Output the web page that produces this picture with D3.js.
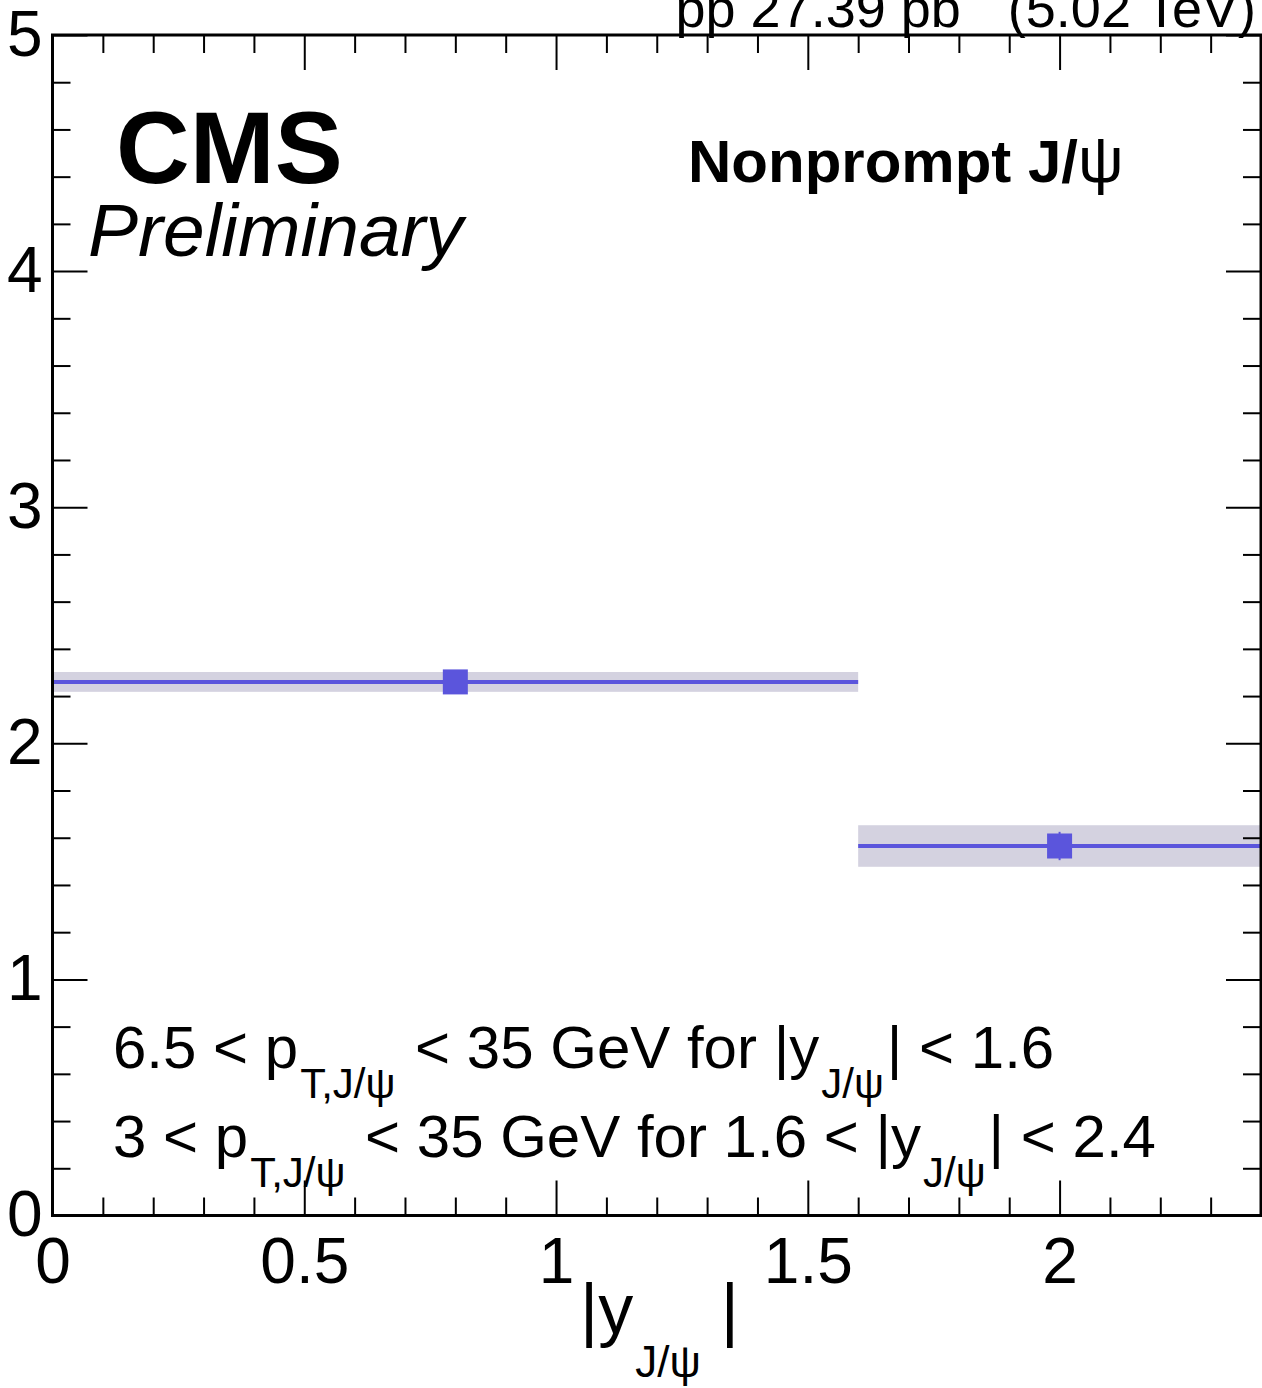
<!DOCTYPE html>
<html>
<head>
<meta charset="utf-8">
<script src="https://cdn.jsdelivr.net/npm/d3@7"></script>
<style>
  body { margin: 0; background: #fff; }
  text { font-family: "Liberation Sans", Arial, sans-serif; fill: #000; }
</style>
</head>
<body>
<script>
// bins in |y| and the nonprompt J/psi values
const binLow = [0, 1.6];
const binHigh = [1.6, 2.4];
const xCenter = [0.8, 2.0];
const yValue = [2.26, 1.565];
const statErr = [0.03, 0.06];
const systErr = [0.042, 0.088];

const xTickValues = [0, 0.5, 1, 1.5, 2];
const xTickLabels = ["0", "0.5", "1", "1.5", "2"];
const yTickValues = [0, 1, 2, 3, 4, 5];
const yTickLabels = ["0", "1", "2", "3", "4", "5"];

const W = 1262, H = 1388;
const padL = 52.5, padR = 1261, padT = 35, padB = 1215.5;

const svg = d3.select('body').append('svg')
  .attr('width', W)
  .attr('height', H);

const x = d3.scaleLinear().domain([0, 2.4]).range([padL, padR]);
const y = d3.scaleLinear().domain([0, 5]).range([padB, padT]);

const points = xCenter.map((c, i) => ({
  x: c, lo: binLow[i], hi: binHigh[i], y: yValue[i], stat: statErr[i], syst: systErr[i]
}));

const markColor = '#5b55dc';
const bandColor = '#d4d2e0';

// systematic bands
svg.selectAll('rect.band')
  .data(points)
  .enter()
  .append('rect')
  .attr('class', 'band')
  .attr('x', d => x(d.lo))
  .attr('width', d => x(d.hi) - x(d.lo))
  .attr('y', d => y(d.y + d.syst))
  .attr('height', d => y(d.y - d.syst) - y(d.y + d.syst))
  .attr('fill', bandColor);

// horizontal bin-width lines
svg.selectAll('line.xerr')
  .data(points)
  .enter()
  .append('line')
  .attr('x1', d => x(d.lo))
  .attr('x2', d => x(d.hi))
  .attr('y1', d => y(d.y))
  .attr('y2', d => y(d.y))
  .attr('stroke', markColor)
  .attr('stroke-width', 4);

// stat error bars
svg.selectAll('line.yerr')
  .data(points)
  .enter()
  .append('line')
  .attr('x1', d => x(d.x))
  .attr('x2', d => x(d.x))
  .attr('y1', d => y(d.y + d.stat))
  .attr('y2', d => y(d.y - d.stat))
  .attr('stroke', markColor)
  .attr('stroke-width', 2);

// square markers
const ms = 25;
svg.selectAll('rect.marker')
  .data(points)
  .enter()
  .append('rect')
  .attr('x', d => x(d.x) - ms / 2)
  .attr('y', d => y(d.y) - ms / 2)
  .attr('width', ms)
  .attr('height', ms)
  .attr('fill', markColor);

// axes: ticks drawn inward on all four sides
const xMinor = d3.range(0, 24.5, 1).map(v => v / 10).filter(v => !xTickValues.some(t => Math.abs(t - v) < 1e-9));
const yMinor = d3.range(0, 25.5, 1).map(v => v / 5).filter(v => !yTickValues.some(t => Math.abs(t - v) < 1e-9));

function styleAxis(g) {
  g.select('.domain').remove();
  g.selectAll('line').attr('stroke', '#000').attr('stroke-width', 2);
  g.selectAll('text').style('font-family', '"Liberation Sans", Arial, sans-serif').attr('font-size', 64);
}

svg.append('g').attr('transform', `translate(0,${padB})`)
  .call(d3.axisBottom(x).tickValues(xTickValues).tickSize(-35).tickPadding(22)
    .tickFormat((d, i) => xTickLabels[i]))
  .call(styleAxis);
svg.append('g').attr('transform', `translate(0,${padB})`)
  .call(d3.axisBottom(x).tickValues(xMinor).tickSize(-18).tickFormat(''))
  .call(styleAxis);
svg.append('g').attr('transform', `translate(0,${padT})`)
  .call(d3.axisTop(x).tickValues(xTickValues).tickSize(-35).tickFormat(''))
  .call(styleAxis);
svg.append('g').attr('transform', `translate(0,${padT})`)
  .call(d3.axisTop(x).tickValues(xMinor).tickSize(-18).tickFormat(''))
  .call(styleAxis);

svg.append('g').attr('transform', `translate(${padL},0)`)
  .call(d3.axisLeft(y).tickValues(yTickValues).tickSize(-35).tickPadding(10)
    .tickFormat((d, i) => yTickLabels[i]))
  .call(styleAxis);
svg.append('g').attr('transform', `translate(${padL},0)`)
  .call(d3.axisLeft(y).tickValues(yMinor).tickSize(-18).tickFormat(''))
  .call(styleAxis);
svg.append('g').attr('transform', `translate(${padR},0)`)
  .call(d3.axisRight(y).tickValues(yTickValues).tickSize(-35).tickFormat(''))
  .call(styleAxis);
svg.append('g').attr('transform', `translate(${padR},0)`)
  .call(d3.axisRight(y).tickValues(yMinor).tickSize(-18).tickFormat(''))
  .call(styleAxis);

// frame
svg.append('rect')
  .attr('x', padL).attr('y', padT)
  .attr('width', padR - padL).attr('height', padB - padT)
  .attr('fill', 'none').attr('stroke', '#000').attr('stroke-width', 3);

// x axis title |y_{J/psi}|
const xt = svg.append('text').attr('x', 580).attr('y', 1333).attr('font-size', 70);
xt.append('tspan').text('|y');
xt.append('tspan').attr('dy', 44).attr('dx', 2).attr('font-size', 44).text('J/ψ');
xt.append('tspan').attr('dy', -44).attr('dx', 20).text('|');

// lumi label (top right, superscript falls outside the page)
const lumi = svg.append('text').attr('x', 1256).attr('y', 27)
  .attr('font-size', 54).attr('text-anchor', 'end');
lumi.append('tspan').text('pp 27.39 pb');
lumi.append('tspan').attr('dy', -44).attr('font-size', 36).text('-1');
lumi.append('tspan').attr('dy', 44).text(' (5.02 TeV)');

svg.append('text').attr('x', 116).attr('y', 183)
  .attr('font-size', 102).attr('font-weight', 'bold').text('CMS');
svg.append('text').attr('x', 88).attr('y', 256)
  .attr('font-size', 75).attr('font-style', 'italic').text('Preliminary');

const np = svg.append('text').attr('x', 688).attr('y', 182).attr('font-size', 60);
np.append('tspan').attr('font-weight', 'bold').text('Nonprompt J/');
np.append('tspan').attr('font-size', 64).text('ψ');

// kinematic selections: plain text and subscripts
function selLine(yy, parts) {
  const t = svg.append('text').attr('x', 113).attr('y', yy).attr('font-size', 60);
  const sh = 30;
  let shift = 0;
  parts.forEach(p => {
    const s = t.append('tspan');
    if (p.sub) {
      s.attr('dy', sh - shift).attr('dx', 2).attr('font-size', 42).text(p.sub);
      shift = sh;
    } else {
      s.attr('dy', -shift).attr('dx', shift ? 3 : 0).text(p.txt);
      shift = 0;
    }
  });
}
selLine(1068, [
  { txt: '6.5 < p' }, { sub: 'T,J/ψ' }, { txt: ' < 35 GeV for |y' }, { sub: 'J/ψ' }, { txt: '| < 1.6' }
]);
selLine(1157, [
  { txt: '3 < p' }, { sub: 'T,J/ψ' }, { txt: ' < 35 GeV for 1.6 < |y' }, { sub: 'J/ψ' }, { txt: '| < 2.4' }
]);
</script>
</body>
</html>
